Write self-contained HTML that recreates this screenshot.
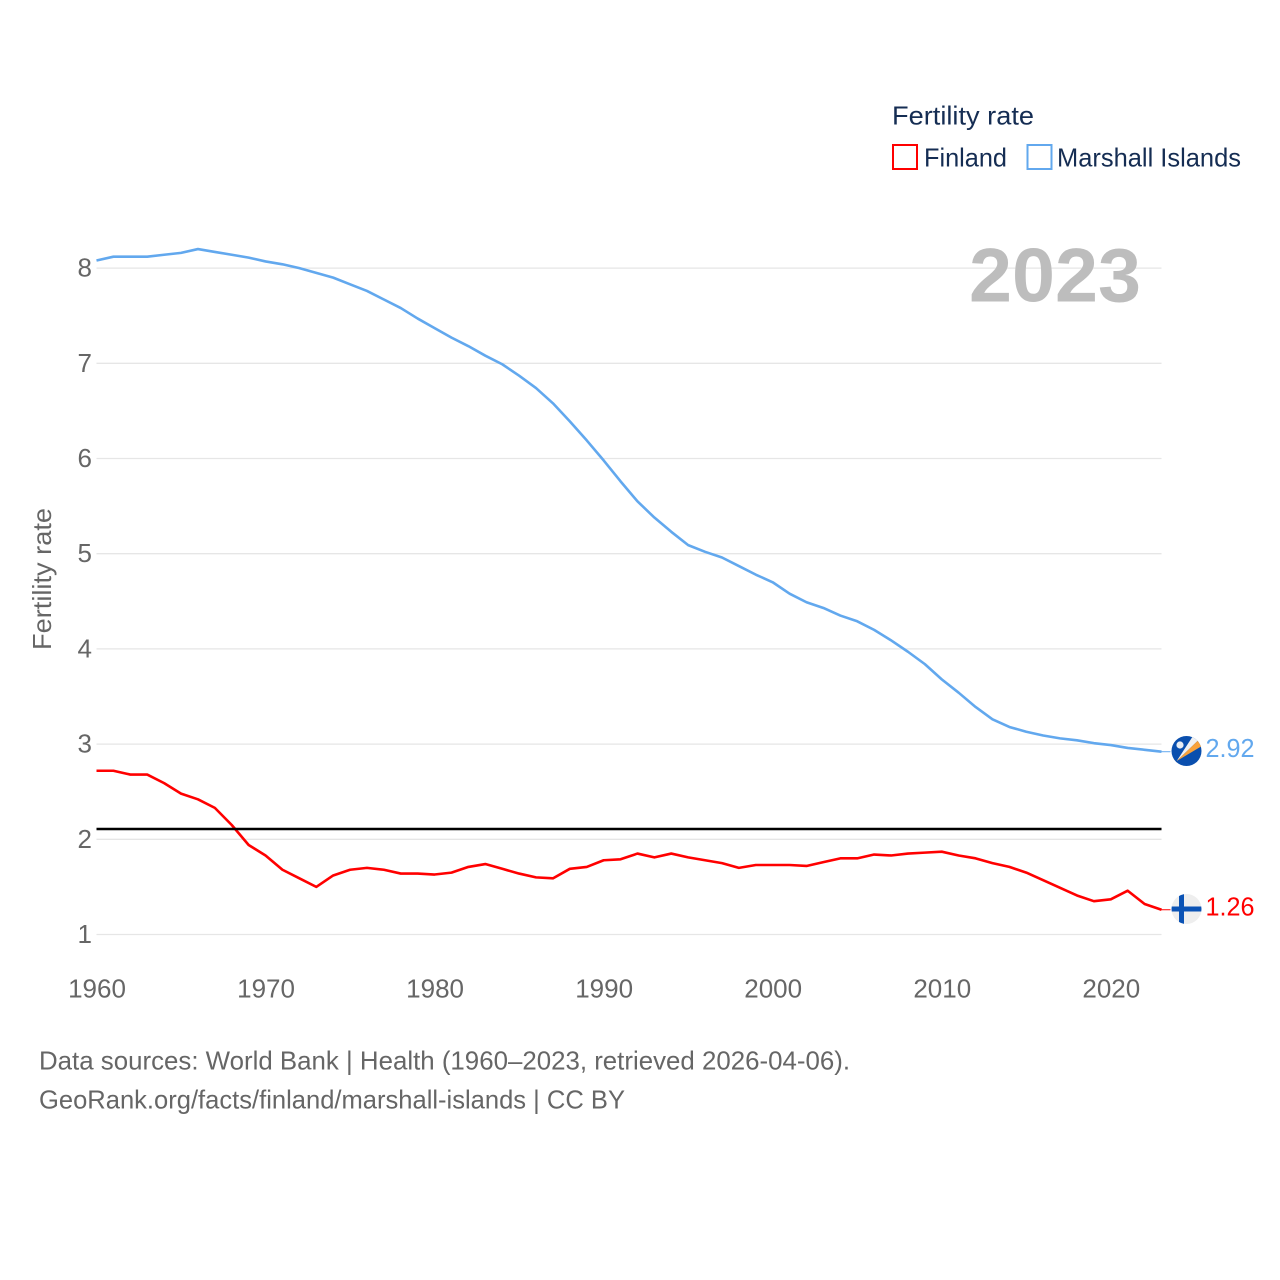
<!DOCTYPE html>
<html>
<head>
<meta charset="utf-8">
<title>Fertility rate: Finland and Marshall Islands</title>
<style>
html,body{margin:0;padding:0;background:#fff;}
svg{display:block;font-family:"Liberation Sans",sans-serif;}
</style>
</head>
<body>
<svg id="chart" width="1280" height="1280" viewBox="0 0 1280 1280" xmlns="http://www.w3.org/2000/svg">
  <defs>
    <clipPath id="flag-clip-mh"><circle cx="1186.5" cy="751" r="15"/></clipPath>
    <clipPath id="flag-clip-fi"><circle cx="1186.5" cy="909" r="15"/></clipPath>
  </defs>
  <g id="grid"></g>
  <g id="yticks"></g>
  <g id="xticks"></g>
  <text x="969" y="301.5" font-size="76" font-weight="700" fill="#bdbdbd" textLength="172" lengthAdjust="spacingAndGlyphs">2023</text>
  <text transform="translate(51,650) rotate(-90)" font-size="26" fill="#666666" textLength="142" lengthAdjust="spacingAndGlyphs">Fertility rate</text>
  <g id="lines"></g>

  <g>
    <text x="892" y="124.5" font-size="26" fill="#152d53" textLength="142" lengthAdjust="spacingAndGlyphs">Fertility rate</text>
    <g>
      <rect x="893" y="145" width="24" height="24" fill="none" stroke="#ff0000" stroke-width="2"/>
      <text x="924" y="166.5" font-size="26" fill="#152d53" textLength="83" lengthAdjust="spacingAndGlyphs">Finland</text>
    </g>
    <g>
      <rect x="1027.5" y="145" width="24" height="24" fill="none" stroke="#62a8ee" stroke-width="2"/>
      <text x="1057" y="166.5" font-size="26" fill="#152d53" textLength="184" lengthAdjust="spacingAndGlyphs">Marshall Islands</text>
    </g>
  </g>

  <g clip-path="url(#flag-clip-mh)">
    <rect x="1170" y="735" width="34" height="32" fill="#0a4fae"/>
    <polygon points="1176.7,761 1193,736 1198,740.5" fill="#f1f1f1"/>
    <polygon points="1176.7,761 1198,740.5 1202,746" fill="#f9a23a"/>
    <circle cx="1180" cy="745" r="3.6" fill="#e8edf4"/>
  </g>
  <text x="1205.5" y="757" font-size="26" fill="#62a8ee" textLength="49" lengthAdjust="spacingAndGlyphs">2.92</text>

  <g clip-path="url(#flag-clip-fi)">
    <rect x="1170" y="893" width="34" height="32" fill="#eeeeee"/>
    <rect x="1179" y="893" width="5" height="32" fill="#0b53b5"/>
    <rect x="1170" y="906.5" width="34" height="5" fill="#0b53b5"/>
  </g>
  <text x="1205.5" y="915.5" font-size="26" fill="#ff0000" textLength="49" lengthAdjust="spacingAndGlyphs">1.26</text>

  <text x="39" y="1069.5" font-size="26" fill="#666666" textLength="811" lengthAdjust="spacingAndGlyphs">Data sources: World Bank | Health (1960–2023, retrieved 2026-04-06).</text>
  <a><text x="39" y="1108.5" font-size="26" fill="#666666" textLength="586" lengthAdjust="spacingAndGlyphs">GeoRank.org/facts/finland/marshall-islands | CC BY</text></a>
</svg>
<script>
const firstYear = 1960;
const finland = [2.72,2.72,2.68,2.68,2.59,2.48,2.42,2.33,2.15,1.94,1.83,1.68,1.59,1.50,1.62,1.68,1.70,1.68,1.64,1.64,1.63,1.65,1.71,1.74,1.69,1.64,1.60,1.59,1.69,1.71,1.78,1.79,1.85,1.81,1.85,1.81,1.78,1.75,1.70,1.73,1.73,1.73,1.72,1.76,1.80,1.80,1.84,1.83,1.85,1.86,1.87,1.83,1.80,1.75,1.71,1.65,1.57,1.49,1.41,1.35,1.37,1.46,1.32,1.26];
const marshall = [8.08,8.12,8.12,8.12,8.14,8.16,8.20,8.17,8.14,8.11,8.07,8.04,8.00,7.95,7.90,7.83,7.76,7.67,7.58,7.47,7.37,7.27,7.18,7.08,6.99,6.87,6.74,6.58,6.39,6.19,5.98,5.76,5.55,5.38,5.23,5.09,5.02,4.96,4.87,4.78,4.70,4.58,4.49,4.43,4.35,4.29,4.20,4.09,3.97,3.84,3.68,3.54,3.39,3.26,3.18,3.13,3.09,3.06,3.04,3.01,2.99,2.96,2.94,2.92];
const yTicks = [1,2,3,4,5,6,7,8];
const xTicks = [1960,1970,1980,1990,2000,2010,2020];
const replacementLevel = 2.1;

const NS = 'http://www.w3.org/2000/svg';
function xScale(year){ return 96.5 + (year - 1960) * 16.905; }
function yScale(v){ return 1029.7 - v * 95.2; }
const plotLeft = xScale(1960);
const plotRight = xScale(2023);

const gridG = document.getElementById('grid');
const yG = document.getElementById('yticks');
const xG = document.getElementById('xticks');
const linesG = document.getElementById('lines');

yTicks.forEach(function(t){
  const ln = document.createElementNS(NS,'line');
  
  
  ln.setAttribute('x1', plotLeft);
  ln.setAttribute('x2', plotRight);
  ln.setAttribute('y1', yScale(t));
  ln.setAttribute('y2', yScale(t));
  ln.setAttribute('stroke', '#e6e6e6');
  ln.setAttribute('stroke-width', '1.3');
  gridG.appendChild(ln);
  const tx = document.createElementNS(NS,'text');
  
  
  tx.setAttribute('x', 92);
  tx.setAttribute('y', yScale(t) + 8.5);
  tx.setAttribute('text-anchor', 'end');
  tx.setAttribute('font-size', '26');
  tx.setAttribute('fill', '#666666');
  tx.textContent = t;
  yG.appendChild(tx);
});

xTicks.forEach(function(t){
  const tx = document.createElementNS(NS,'text');
  
  
  tx.setAttribute('x', xScale(t) + 0.5);
  tx.setAttribute('y', 997.5);
  tx.setAttribute('text-anchor', 'middle');
  tx.setAttribute('font-size', '26');
  tx.setAttribute('fill', '#666666');
  tx.textContent = t;
  xG.appendChild(tx);
});

function pathFor(values){
  return values.map(function(v,i){
    return (i ? 'L' : 'M') + xScale(firstYear + i).toFixed(2) + ' ' + yScale(v).toFixed(2);
  }).join(' ');
}

const marshallPath = document.createElementNS(NS,'path');


marshallPath.setAttribute('d', pathFor(marshall));
marshallPath.setAttribute('fill', 'none');
marshallPath.setAttribute('stroke', '#62a8ee');
marshallPath.setAttribute('stroke-width', '2.6');
marshallPath.setAttribute('stroke-linejoin', 'round');
linesG.appendChild(marshallPath);

const finlandPath = document.createElementNS(NS,'path');


finlandPath.setAttribute('d', pathFor(finland));
finlandPath.setAttribute('fill', 'none');
finlandPath.setAttribute('stroke', '#ff0000');
finlandPath.setAttribute('stroke-width', '2.6');
finlandPath.setAttribute('stroke-linejoin', 'round');
linesG.appendChild(finlandPath);

const marshallLeader = document.createElementNS(NS,'line');


marshallLeader.setAttribute('x1', plotRight);
marshallLeader.setAttribute('x2', plotRight + 9);
marshallLeader.setAttribute('y1', yScale(marshall[marshall.length - 1]));
marshallLeader.setAttribute('y2', yScale(marshall[marshall.length - 1]));
marshallLeader.setAttribute('stroke', '#62a8ee');
marshallLeader.setAttribute('stroke-width', '1');
linesG.appendChild(marshallLeader);

const finlandLeader = document.createElementNS(NS,'line');


finlandLeader.setAttribute('x1', plotRight);
finlandLeader.setAttribute('x2', plotRight + 9);
finlandLeader.setAttribute('y1', yScale(finland[finland.length - 1]));
finlandLeader.setAttribute('y2', yScale(finland[finland.length - 1]));
finlandLeader.setAttribute('stroke', '#ff0000');
finlandLeader.setAttribute('stroke-width', '1');
linesG.appendChild(finlandLeader);

const refLine = document.createElementNS(NS,'line');


refLine.setAttribute('x1', plotLeft);
refLine.setAttribute('x2', plotRight);
refLine.setAttribute('y1', yScale(replacementLevel) - 0.8);
refLine.setAttribute('y2', yScale(replacementLevel) - 0.8);
refLine.setAttribute('stroke', '#000000');
refLine.setAttribute('stroke-width', '2.5');
linesG.appendChild(refLine);
</script>
</body>
</html>
